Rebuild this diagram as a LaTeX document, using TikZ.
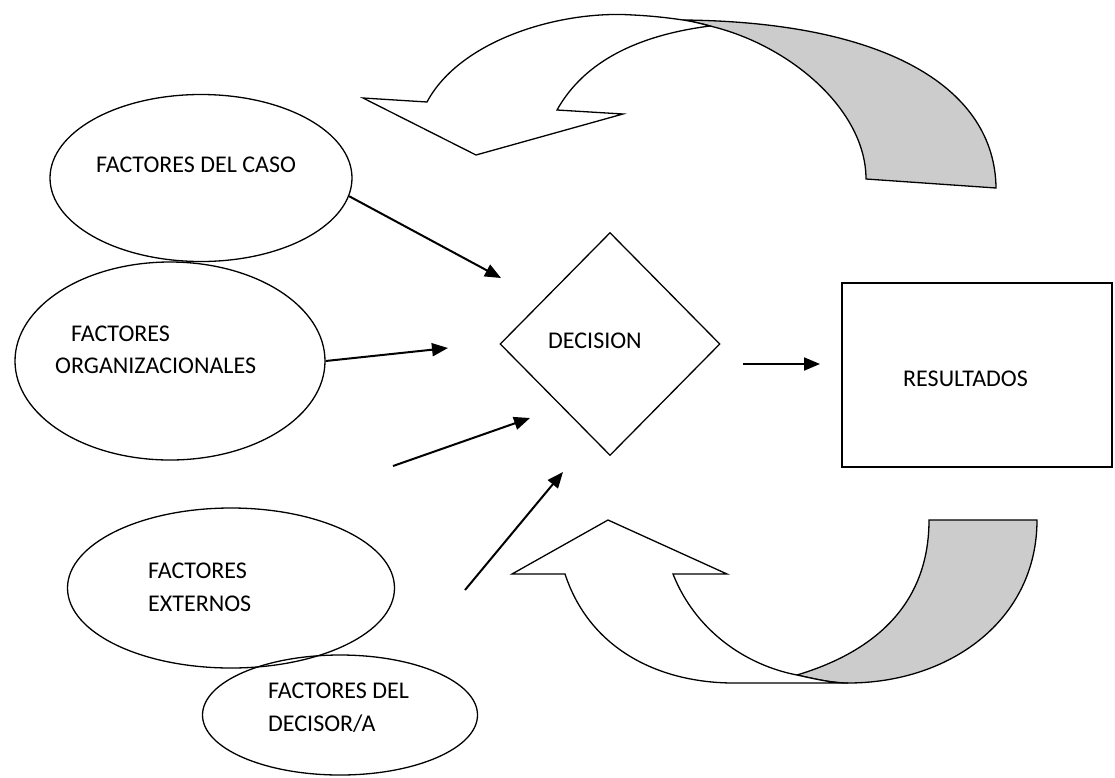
\documentclass[tikz,border=0pt]{standalone}
\usepackage{fontspec}
\setmainfont{Carlito}
\usetikzlibrary{shapes.geometric,arrows.meta}
\definecolor{ribbon}{HTML}{CCCCCC}
\begin{document}
\begin{tikzpicture}[x=1pt,y=-1pt,
  every node/.style={font=\fontsize{24}{29}\selectfont},
  factor/.style={draw, ellipse, line width=1.3pt, inner sep=0pt},
  txt/.style={anchor=base west, inner sep=0pt},
  link/.style={line width=2pt, -{Triangle[length=16pt,width=13pt]}},
  band/.style={draw, line width=1.3pt, line join=miter},
]
\useasboundingbox (0,0) rectangle (1115,777);

% factor ellipses
\node[factor, minimum width=302pt, minimum height=167pt] (caso) at (201,178) {};
\node[factor, minimum width=310pt, minimum height=198pt] (org) at (170,361) {};
\node[factor, minimum width=327pt, minimum height=160pt] (ext) at (231,588) {};
\node[factor, minimum width=275pt, minimum height=120pt] (dec) at (340,715) {};

% decision diamond and results box
\node[draw, diamond, minimum width=220pt, minimum height=223pt, inner sep=0pt, line width=1.3pt] (decision) at (610,344) {};
\node[draw, rectangle, minimum width=270pt, minimum height=184pt, line width=1.3pt] (res) at (977,375) {};

% labels
\node[txt] (tcaso) at (96,172) {FACTORES DEL CASO};
\node[txt] (torg1) at (71,341) {FACTORES};
\node[txt] (torg2) at (55,373) {ORGANIZACIONALES};
\node[txt] (text1) at (148,578) {FACTORES};
\node[txt] (text2) at (148,611) {EXTERNOS};
\node[txt] (tdec1) at (268,698) {FACTORES DEL};
\node[txt] (tdec2) at (268,731) {DECISOR/A};
\node[txt] (tdecision) at (548,348) {DECISION};
\node[txt] (tres) at (903,386) {RESULTADOS};

% arrow end points
\coordinate (in1) at (501,278);
\coordinate (in2) at (448,348);
\coordinate (in3) at (530,418);
\coordinate (in4) at (563,472);
\coordinate (from3) at (393,466);
\coordinate (from4) at (465,590);
\coordinate (out0) at (743,364);
\coordinate (out1) at (820,364);

\draw[link] (caso.-7) -- (in1);
\draw[link] (org.east) -- (in2);
\draw[link] (from3) -- (in3);
\draw[link] (from4) -- (in4);
\draw[link] (out0) -- (out1);

% upper feedback ribbon: shaded back side
\path[band, fill=ribbon] (683,20) .. controls (890,22) and (995,90) .. (996,188)
  -- (866,179) .. controls (866,110) and (790,45) .. (710,26)
  .. controls (701,23.5) and (692,21.4) .. (683,20) -- cycle;
% upper feedback ribbon: arrow front
\path[band, fill=white] (427,102) .. controls (460,40) and (560,10) .. (633,15)
  .. controls (650,15.8) and (667,17.6) .. (683,20)
  .. controls (692,21.4) and (701,23.5) .. (710,26)
  .. controls (640,35) and (585,60) .. (557,110)
  -- (623,114) -- (476,155) -- (363,98) -- cycle;

% lower feedback ribbon: shaded back side
\path[band, fill=ribbon] (797,675) .. controls (880,650) and (929,600) .. (929,520)
  -- (1037,520) .. controls (1037,620) and (950,683) .. (848,683)
  .. controls (832,683) and (815,679) .. (797,675) -- cycle;
% lower feedback ribbon: arrow front
\path[band, fill=white] (565,574) .. controls (590,650) and (660,683) .. (734,683)
  -- (848,683) .. controls (832,683) and (815,679) .. (797,675)
  .. controls (745,665) and (695,630) .. (673,574)
  -- (727,574) -- (608,520) -- (512,574) -- cycle;
\end{tikzpicture}
\end{document}
